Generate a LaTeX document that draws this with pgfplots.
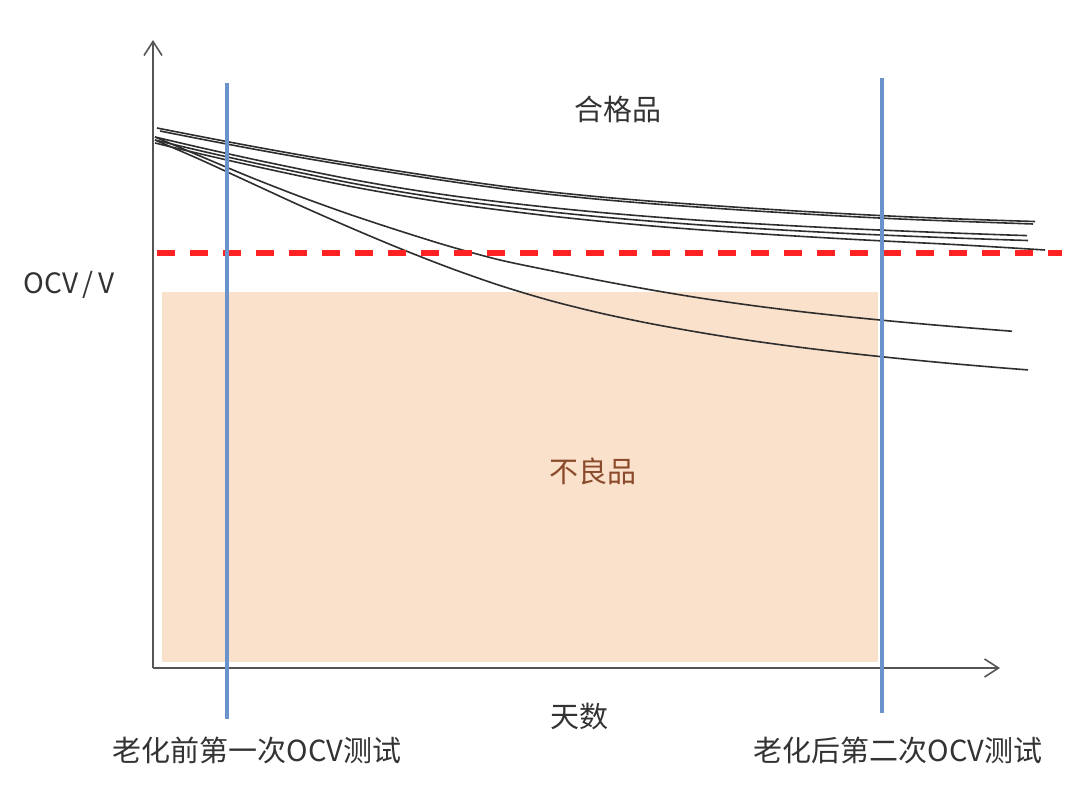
\documentclass[border=0pt]{standalone}
\usepackage{pgfplots}
\pgfplotsset{compat=1.18}
\usetikzlibrary{arrows.meta}
\usepackage{fontspec}
\setmainfont{Noto Sans CJK SC}

\definecolor{curvegray}{HTML}{2E2E2E}
\definecolor{axisgray}{HTML}{555555}
\definecolor{testblue}{HTML}{6A93CC}
\definecolor{limitred}{HTML}{FF2222}
\definecolor{badfill}{HTML}{FAE1CB}
\definecolor{badtext}{HTML}{8B4A2B}
\definecolor{txt}{HTML}{333333}

\begin{document}
\begin{tikzpicture}
\begin{axis}[
    scale only axis,
    width=540pt, height=401.5pt,
    xmin=0, xmax=1080, ymin=0, ymax=803,
    y dir=reverse,
    hide axis, clip=false,
    every axis plot/.append style={line join=round},
    cell/.style={curvegray, line width=0.8pt, smooth},
]
% keep the full frame
\addplot[draw=none] coordinates {(0,0) (1080,803)};

% 不良品 region
\addplot[draw=none, fill=badfill] coordinates {
  (162,292) (878,292) (878,662) (162,662)} -- cycle;

% axes
\addplot[axisgray, line width=0.8pt, -{Straight Barb[length=7pt,width=9pt]}]
  coordinates {(153,668) (153,40)};
\addplot[axisgray, line width=0.8pt, -{Straight Barb[length=7pt,width=9pt]}]
  coordinates {(153,668) (1000,668)};

% good cells
\addplot[cell] coordinates {
  (157,128) (200,136.4) (250,145.9) (300,154.9) (350,163.3) (400,171.3)
  (450,178.9) (500,185.9) (550,191.9) (600,196.9) (650,201.1) (700,204.7)
  (750,208.1) (800,211.2) (850,214) (900,216.5) (950,218.6) (1000,220.4) (1035,221.5)};
\addplot[cell] coordinates {
  (160,131) (200,138.9) (250,148.4) (300,157.4) (350,165.8) (400,173.8)
  (450,181.4) (500,188.4) (550,194.4) (600,199.4) (650,203.6) (700,207.2)
  (750,210.6) (800,213.7) (850,216.5) (900,219) (950,221) (1000,222.8) (1033,224)};
\addplot[cell] coordinates {
  (155,137) (200,147.5) (250,158.6) (300,169.1) (350,179.1) (400,187.9)
  (450,195.5) (500,201.9) (550,207.5) (600,212.4) (650,216.6) (700,220.3)
  (750,223.4) (800,226.2) (850,228.7) (900,230.9) (950,232.9) (1000,234.7) (1027,235.6)};
\addplot[cell] coordinates {
  (155,140) (200,150.7) (250,162) (300,172.6) (350,182.8) (400,191.7)
  (450,199.5) (500,206) (550,211.8) (600,216.8) (650,221.1) (700,224.9)
  (750,228.1) (800,231) (850,233.6) (900,235.8) (950,237.8) (1000,239.6) (1028,240.5)};
\addplot[cell] coordinates {
  (155,143) (200,153.8) (250,165.2) (300,176) (350,186.3) (400,195.3)
  (450,203.3) (500,210) (550,216) (600,221.2) (650,225.8) (700,229.8)
  (750,233.2) (800,236.3) (850,239.2) (900,241.8) (950,244.3) (1000,247.2) (1045,250)};
% bad cells
\addplot[cell] coordinates {
  (155,137) (200,156) (250,177) (300,196.5) (350,214.5) (400,231) (450,246.5)
  (500,260) (550,270.5) (600,280.5) (650,289.7) (700,298) (750,305.2)
  (800,311.5) (850,317) (900,321.9) (950,326.3) (1000,330.3) (1012,331.2)};
\addplot[cell] coordinates {
  (155,140) (200,159.5) (250,182.5) (300,205.5) (350,227.5) (400,248.5) (450,268)
  (500,285.5) (550,300.5) (600,313) (650,323.5) (700,332.5) (750,340.5)
  (800,347.3) (850,353.3) (900,358.6) (950,363.4) (1000,367.7) (1028,369.9)};

% OCV limit
\addplot[limitred, line width=3pt, dash pattern=on 9pt off 7.5pt]
  coordinates {(157,253) (1062,253)};

% test moments
\addplot[testblue, line width=2pt] coordinates {(227,83) (227,719)};
\addplot[testblue, line width=2pt] coordinates {(882,78) (882,713)};

% labels
\node[txt, font=\fontsize{14.5}{17}\selectfont] at (axis cs:618,109) {合格品};
\node[badtext, font=\fontsize{14.5}{17}\selectfont] at (axis cs:593,471) {不良品};
\node[txt, font=\fontsize{14}{17}\selectfont] at (axis cs:69,285) {OCV\,/\,V};
\node[txt, font=\fontsize{14.5}{17}\selectfont] at (axis cs:579,716) {天数};
\node[txt, font=\fontsize{14.5}{17}\selectfont] at (axis cs:257,750) {老化前第一次OCV测试};
\node[txt, font=\fontsize{14.5}{17}\selectfont] at (axis cs:898,750) {老化后第二次OCV测试};
\end{axis}
\end{tikzpicture}
\end{document}
